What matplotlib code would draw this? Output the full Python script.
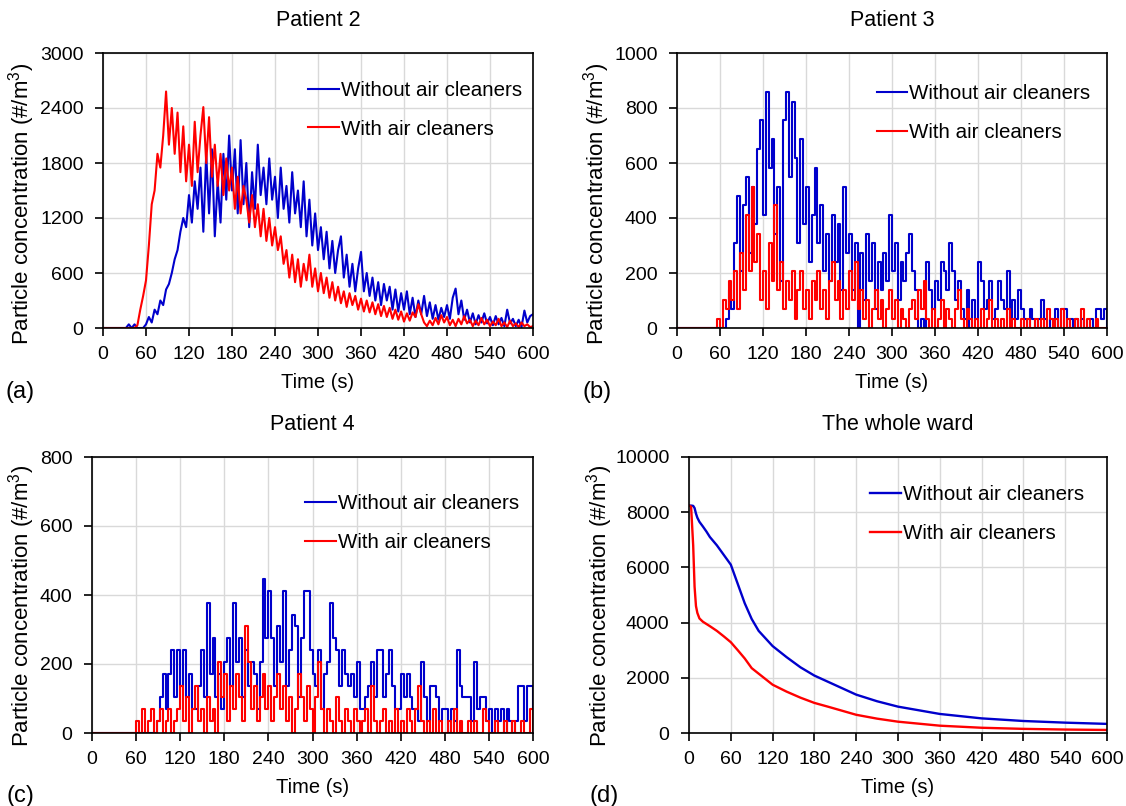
import numpy as np
import matplotlib
matplotlib.use('Agg')
import matplotlib.pyplot as plt

plt.rcParams['font.family'] = ['Liberation Sans', 'DejaVu Sans']
plt.rcParams['mathtext.fontset'] = 'custom'
plt.rcParams['mathtext.rm'] = 'Liberation Sans'
plt.rcParams['mathtext.it'] = 'Liberation Sans'
plt.rcParams['font.size'] = 14

# time axis of the sampled traces (s)
time_s = np.arange(0, 601, 4)

# Patient 2, concentration (#/m3), one value every 4 s
p2_without = [0, 0, 0, 0, 0, 0, 0, 0, 0, 40, 0, 40, 0, 0, 0, 40,
              120, 60, 200, 150, 300, 250, 420, 480, 600, 750, 850, 1050, 1200, 1100, 1450, 1150,
              1600, 1300, 1750, 1050, 1900, 1250, 1950, 1000, 1600, 1150, 1900, 1400, 2100, 1500, 1950, 1250,
              2050, 1350, 1800, 1100, 1700, 1300, 2000, 1450, 1750, 1350, 1850, 1400, 1650, 1200, 1750, 1300,
              1550, 1150, 1700, 1250, 1500, 1100, 1600, 1000, 1400, 900, 1250, 850, 1100, 750, 1050, 650,
              950, 600, 850, 1000, 550, 800, 450, 700, 400, 650, 830, 400, 600, 350, 550, 300,
              500, 250, 480, 300, 450, 200, 420, 180, 380, 200, 400, 150, 330, 120, 300, 150,
              350, 130, 280, 100, 250, 90, 220, 120, 250, 100, 330, 430, 150, 300, 90, 200,
              60, 160, 40, 140, 60, 160, 50, 120, 30, 130, 40, 110, 20, 200, 50, 100,
              20, 90, 10, 190, 60, 130, 150]
p2_with = [0, 0, 0, 0, 0, 0, 0, 0, 0, 0, 0, 0, 30, 200, 350, 520,
           900, 1350, 1500, 1900, 1750, 2100, 2580, 2000, 2400, 1900, 2350, 1700, 2200, 1600, 2000, 1550,
           2250, 1700, 2100, 2410, 1800, 2300, 1650, 2000, 1550, 1900, 1450, 1850, 1500, 1750, 1300, 1650,
           1250, 1550, 1400, 1150, 1450, 1100, 1350, 1000, 1300, 950, 1200, 900, 1100, 850, 1000, 700,
           850, 550, 800, 500, 750, 450, 700, 520, 800, 450, 650, 400, 600, 380, 550, 330,
           500, 300, 450, 270, 400, 230, 380, 250, 350, 200, 320, 180, 300, 170, 280, 150,
           260, 130, 240, 120, 220, 100, 200, 90, 180, 70, 160, 80, 170, 120, 260, 150,
           60, 20, 80, 30, 110, 40, 140, 60, 120, 30, 90, 20, 100, 40, 130, 50,
           90, 20, 80, 30, 110, 40, 90, 20, 70, 30, 100, 20, 60, 10, 80, 20,
           50, 10, 60, 20, 40, 10, 20]

# Patients 3 and 4: particle counts, one count = 34.3 #/m3
count_unit = 34.3
p3_without = [0, 0, 0, 0, 0, 0, 0, 0, 0, 0, 0, 0, 0, 0, 0, 0,
              0, 1, 4, 2, 9, 14, 6, 13, 16, 8, 15, 11, 19, 22, 12, 25,
              17, 20, 10, 15, 5, 22, 25, 16, 24, 18, 9, 20, 11, 15, 7, 12,
              17, 9, 13, 6, 10, 5, 12, 7, 11, 4, 15, 8, 10, 4, 9, 0,
              8, 3, 10, 5, 9, 2, 7, 4, 8, 5, 12, 6, 9, 3, 7, 5,
              8, 10, 6, 4, 0, 1, 0, 7, 4, 2, 5, 3, 7, 6, 4, 9,
              6, 3, 5, 2, 1, 4, 0, 3, 1, 7, 5, 2, 3, 5, 1, 2,
              5, 3, 2, 6, 1, 3, 1, 4, 2, 1, 0, 2, 1, 0, 1, 3,
              1, 0, 1, 0, 2, 0, 2, 2, 0, 1, 0, 1, 0, 1, 0, 0,
              1, 0, 2, 2, 1, 2, 0]
p3_with = [0, 0, 0, 0, 0, 0, 0, 0, 0, 0, 0, 0, 0, 0, 1, 0,
           3, 2, 5, 3, 6, 2, 8, 4, 12, 6, 15, 7, 10, 3, 6, 2,
           9, 5, 13, 4, 7, 2, 5, 3, 6, 1, 4, 6, 2, 4, 1, 5,
           3, 6, 2, 4, 1, 5, 7, 3, 5, 1, 4, 2, 6, 3, 7, 2,
           4, 1, 3, 0, 2, 4, 1, 3, 0, 2, 4, 1, 3, 0, 2, 1,
           0, 2, 3, 1, 4, 2, 5, 1, 0, 2, 0, 1, 3, 0, 2, 1,
           0, 2, 4, 1, 0, 2, 1, 0, 1, 0, 2, 0, 1, 3, 0, 1,
           0, 1, 0, 2, 0, 1, 0, 0, 1, 0, 1, 0, 0, 1, 0, 1,
           0, 2, 1, 0, 1, 0, 2, 0, 1, 0, 0, 1, 0, 2, 0, 1,
           0, 0, 1, 0, 0, 0, 0]
p4_without = [0, 0, 0, 0, 0, 0, 0, 0, 0, 0, 0, 0, 0, 0, 0, 0,
              0, 0, 0, 0, 0, 0, 1, 3, 5, 2, 5, 7, 3, 7, 4, 7,
              3, 5, 2, 2, 4, 7, 3, 11, 5, 8, 3, 5, 2, 6, 8, 4,
              11, 6, 8, 3, 7, 4, 6, 5, 2, 6, 13, 8, 12, 8, 4, 9,
              6, 12, 4, 7, 10, 9, 3, 8, 12, 12, 7, 5, 4, 7, 2, 5,
              6, 11, 8, 7, 4, 7, 5, 4, 5, 3, 6, 2, 2, 3, 4, 6,
              3, 7, 7, 3, 5, 7, 4, 2, 2, 5, 3, 5, 3, 2, 2, 1,
              6, 3, 1, 4, 4, 3, 1, 2, 2, 0, 2, 1, 7, 4, 3, 3,
              3, 1, 6, 2, 3, 3, 1, 2, 0, 2, 1, 2, 0, 2, 1, 0,
              1, 4, 4, 1, 4, 4, 2]
p4_with = [0, 0, 0, 0, 0, 0, 0, 0, 0, 0, 0, 0, 0, 0, 0, 1,
           0, 2, 0, 1, 2, 0, 1, 2, 0, 1, 2, 0, 1, 2, 4, 1,
           3, 0, 2, 4, 1, 2, 0, 3, 1, 2, 0, 6, 3, 5, 1, 4,
           2, 5, 3, 1, 9, 6, 2, 4, 1, 3, 5, 2, 4, 1, 3, 5,
           2, 4, 1, 3, 0, 2, 5, 3, 1, 4, 2, 0, 3, 6, 2, 0,
           2, 1, 0, 3, 1, 0, 2, 1, 0, 2, 1, 0, 1, 2, 0, 4,
           1, 0, 1, 2, 0, 1, 0, 2, 0, 1, 0, 2, 1, 0, 2, 4,
           1, 0, 1, 0, 2, 0, 1, 0, 0, 1, 0, 2, 0, 1, 0, 0,
           1, 0, 1, 0, 0, 2, 1, 0, 0, 1, 0, 0, 1, 0, 0, 1,
           0, 0, 1, 0, 0, 2, 0]

# Whole ward (#/m3)
ward_time = [0, 3, 6, 8, 10, 12, 15, 20, 25, 30, 40, 50, 60, 70, 80, 90, 100, 120,
             140, 160, 180, 200, 240, 270, 300, 360, 420, 480, 540, 600]
ward_without = [8240, 8240, 8230, 8150, 7950, 7800, 7650, 7480, 7300, 7100, 6800, 6450, 6100, 5400,
                4700, 4130, 3700, 3150, 2750, 2380, 2080, 1850, 1390, 1150, 955, 690, 530, 435, 375, 330]
ward_with = [8240, 8200, 6800, 5300, 4600, 4350, 4150, 4030, 3950, 3870, 3700, 3500, 3290, 3000,
             2700, 2350, 2150, 1750, 1500, 1280, 1090, 950, 660, 520, 410, 265, 190, 150, 125, 110]

BLUE = '#0000CC'
RED = '#FF0000'
YLABEL = r'Particle concentration (#/m$^3$)'
X_TICKS = np.arange(0, 601, 60)


def style_axes(ax, title, ymax, ystep, leg_xy, ylab_xy):
    ax.set_xlim(0, 600)
    ax.set_ylim(0, ymax)
    ax.set_xticks(X_TICKS)
    ax.set_yticks(np.arange(0, ymax + 1, ystep))
    ax.grid(True, color='#d9d9d9', linewidth=1.0)
    ax.set_axisbelow(True)
    for sp in ax.spines.values():
        sp.set_linewidth(1.2)
        sp.set_color('black')
    ax.tick_params(direction='out', length=6, width=1.2, pad=7, labelsize=14)
    ax.tick_params(axis='y', pad=8)
    ax.set_title(title, fontsize=15.5, pad=19.5)
    ax.set_xlabel('Time (s)', fontsize=14.5, labelpad=7)
    ax.set_ylabel(YLABEL, fontsize=16)
    ax.yaxis.set_label_coords(*ylab_xy)
    ax.legend(loc='upper left', bbox_to_anchor=leg_xy, frameon=False, fontsize=14.8,
              handlelength=1.5, handletextpad=0.1, labelspacing=0.95,
              borderpad=0, borderaxespad=0)


fig = plt.figure(figsize=(11.26, 8.06), dpi=100)
ax_a = fig.add_axes([103 / 1126, 1 - 328 / 806, 430 / 1126, 275 / 806])
ax_b = fig.add_axes([677 / 1126, 1 - 328 / 806, 430 / 1126, 275 / 806])
ax_c = fig.add_axes([92 / 1126, 1 - 733 / 806, 441 / 1126, 276 / 806])
ax_d = fig.add_axes([689 / 1126, 1 - 733 / 806, 418 / 1126, 276 / 806])

ax_a.plot(time_s, p2_without, color=BLUE, lw=1.5, label='Without air cleaners')
ax_a.plot(time_s, p2_with, color=RED, lw=1.5, label='With air cleaners')
style_axes(ax_a, 'Patient 2', 3000, 600, (0.477, 0.898), (-0.153, 0.45))

ax_b.step(time_s, np.array(p3_without) * count_unit, where='post', color=BLUE, lw=1.5,
          label='Without air cleaners')
ax_b.step(time_s, np.array(p3_with) * count_unit, where='post', color=RED, lw=1.5,
          label='With air cleaners')
style_axes(ax_b, 'Patient 3', 1000, 200, (0.464, 0.886), (-0.151, 0.45))

ax_c.step(time_s, np.array(p4_without) * count_unit, where='post', color=BLUE, lw=1.5,
          label='Without air cleaners')
ax_c.step(time_s, np.array(p4_with) * count_unit, where='post', color=RED, lw=1.5,
          label='With air cleaners')
style_axes(ax_c, 'Patient 4', 800, 200, (0.483, 0.865), (-0.125, 0.46))

ax_d.plot(ward_time, ward_without, color=BLUE, lw=1.7, label='Without air cleaners')
ax_d.plot(ward_time, ward_with, color=RED, lw=1.7, label='With air cleaners')
style_axes(ax_d, 'The whole ward', 10000, 2000, (0.433, 0.897), (-0.177, 0.46))

for lab, x, y in [('(a)', 20, 392), ('(b)', 597, 392), ('(c)', 20, 796), ('(d)', 604, 796)]:
    fig.text(x / 1126, 1 - y / 806, lab, fontsize=17, ha='center', va='center')

fig.savefig('out.png', dpi=100)
